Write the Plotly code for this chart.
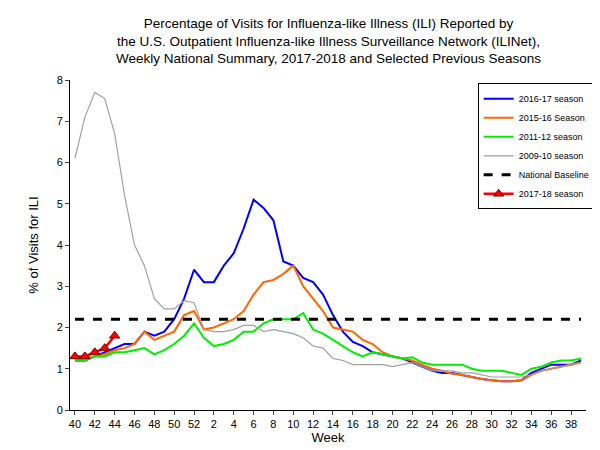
import plotly.graph_objects as go

weeks = [str(w) for w in list(range(40, 53)) + list(range(1, 40))]

s2016_17 = [1.2, 1.2, 1.3, 1.4, 1.5, 1.6, 1.6, 1.9, 1.8, 1.9, 2.2, 2.7, 3.4,
            3.1, 3.1, 3.5, 3.8, 4.4, 5.1, 4.9, 4.6, 3.6, 3.5, 3.2, 3.1, 2.8, 2.3,
            1.9, 1.65, 1.55, 1.4, 1.35, 1.3, 1.25, 1.15, 1.05, 0.95, 0.9, 0.9,
            0.85, 0.8, 0.75, 0.72, 0.7, 0.7, 0.72, 0.9, 1.0, 1.1, 1.1, 1.1, 1.2]
s2015_16 = [1.2, 1.25, 1.3, 1.35, 1.45, 1.5, 1.6, 1.9, 1.7, 1.8, 1.9, 2.3, 2.4,
            1.95, 2.0, 2.1, 2.2, 2.4, 2.8, 3.1, 3.15, 3.3, 3.5, 3.0, 2.7, 2.4, 2.0,
            1.95, 1.9, 1.7, 1.6, 1.4, 1.3, 1.25, 1.2, 1.1, 1.0, 0.95, 0.88,
            0.85, 0.8, 0.75, 0.72, 0.7, 0.7, 0.72, 0.85, 0.95, 1.0, 1.05, 1.1, 1.15]
s2011_12 = [1.2, 1.2, 1.3, 1.3, 1.4, 1.4, 1.45, 1.5, 1.35, 1.45, 1.6, 1.8, 2.1,
            1.75, 1.55, 1.6, 1.7, 1.9, 1.9, 2.1, 2.2, 2.2, 2.2, 2.35, 1.95, 1.85, 1.7,
            1.55, 1.4, 1.3, 1.4, 1.35, 1.3, 1.25, 1.28, 1.15, 1.1, 1.1, 1.1,
            1.1, 1.0, 0.95, 0.95, 0.95, 0.9, 0.85, 1.0, 1.05, 1.15, 1.2, 1.2, 1.25]
s2009_10 = [6.1, 7.1, 7.7, 7.55, 6.7, 5.2, 4.0, 3.5, 2.7, 2.45, 2.45, 2.65, 2.6,
            1.95, 1.9, 1.9, 1.95, 2.05, 2.05, 1.9, 1.95, 1.9, 1.85, 1.75, 1.55, 1.5, 1.25,
            1.2, 1.1, 1.1, 1.1, 1.1, 1.05, 1.1, 1.15, 1.05, 0.95, 0.95, 0.95,
            0.9, 0.9, 0.85, 0.8, 0.8, 0.8, 0.8, 0.85, 0.95, 1.0, 1.05, 1.1, 1.15]
s2017_18 = [1.3, 1.3, 1.4, 1.5, 1.8]
baseline = 2.2

title_text = ("Percentage of Visits for Influenza-like Illness (ILI) Reported by<br>"
              "the U.S. Outpatient Influenza-like Illness Surveillance Network (ILINet),<br>"
              "Weekly National Summary, 2017-2018 and Selected Previous Seasons")

fig = go.Figure()
fig.add_trace(go.Scatter(x=weeks, y=s2016_17, mode="lines", name="2016-17 season",
                         line=dict(color="#0000ff", width=2)))
fig.add_trace(go.Scatter(x=weeks, y=s2015_16, mode="lines", name="2015-16 Season",
                         line=dict(color="#ff6600", width=2)))
fig.add_trace(go.Scatter(x=weeks, y=s2011_12, mode="lines", name="2011-12 season",
                         line=dict(color="#00ee00", width=2)))
fig.add_trace(go.Scatter(x=weeks, y=s2009_10, mode="lines", name="2009-10 season",
                         line=dict(color="#a0a0a0", width=1.2)))
fig.add_trace(go.Scatter(x=weeks, y=[baseline] * len(weeks), mode="lines",
                         name="National Baseline",
                         line=dict(color="black", width=3, dash="dash")))
fig.add_trace(go.Scatter(x=weeks[:len(s2017_18)], y=s2017_18, mode="lines+markers",
                         name="2017-18 season",
                         line=dict(color="#ff0000", width=2.5),
                         marker=dict(symbol="triangle-up", size=9, color="#ff0000",
                                     line=dict(color="#800000", width=1))))

fig.add_annotation(text=title_text, xref="paper", yref="paper", x=0.5, y=1,
                   yanchor="bottom", yshift=12, showarrow=False,
                   font=dict(size=13.5))

fig.update_layout(
    width=600, height=450,
    margin=dict(l=62, r=18, t=72, b=48),
    paper_bgcolor="white", plot_bgcolor="white",
    font=dict(family="Liberation Sans, Arial", size=11, color="black"),
    xaxis=dict(title=dict(text="Week", standoff=2), type="category",
               tickvals=weeks[::2], ticks="outside", ticklen=4,
               showline=True, linecolor="black", showgrid=False,
               range=[-0.5, len(weeks) - 0.5]),
    yaxis=dict(title="% of Visits for ILI", range=[0, 8], dtick=1,
               ticks="outside", ticklen=4, showline=True, linecolor="black",
               showgrid=False, zeroline=False),
    legend=dict(x=0.79, y=0.99, xanchor="left", yanchor="top",
                bordercolor="black", borderwidth=1, bgcolor="white",
                font=dict(size=9), tracegroupgap=2),
)

fig.write_html("out.html")
